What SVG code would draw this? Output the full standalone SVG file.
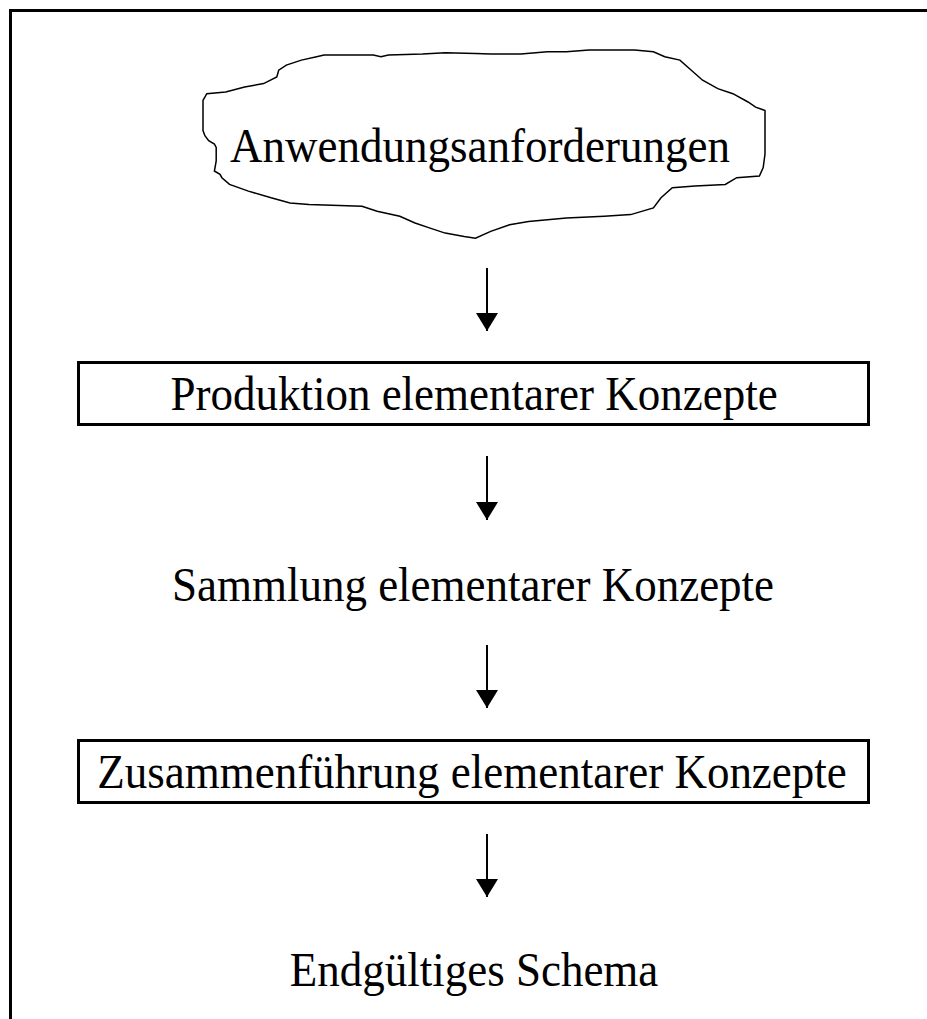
<svg xmlns="http://www.w3.org/2000/svg" width="927" height="1019" viewBox="0 0 927 1019">
  <style>
    .lbl { font-family: "Liberation Serif", "Times New Roman", serif; font-size: 45px; fill: #000; text-anchor: middle; }
    .box { fill: #fff; stroke: #000; stroke-width: 3; }
    .cloud { fill: #fff; stroke: #000; stroke-width: 1.5; stroke-linejoin: miter; }
    .edge { stroke: #000; stroke-width: 2; fill: none; marker-end: url(#head); }
  </style>
  <defs>
    <!-- filled triangular arrowhead, drawn along +x so orient="auto" points it down the line -->
    <marker id="head" markerUnits="userSpaceOnUse" markerWidth="18" markerHeight="22" refX="18" refY="11" orient="auto" viewBox="0 0 18 22">
      <path d="M0,0 L18,11 L0,22 Z" fill="#000"/>
    </marker>
  </defs>

  <rect width="927" height="1019" fill="#fff"/>
  <!-- outer frame: top and left edges only -->
  <path d="M10.5,1019 V10.5 H927" fill="none" stroke="#000" stroke-width="3"/>

  <g id="anforderungen">
    <path class="cloud" d="M203,100.4 L206.8,93.7 L225.7,92 L244.6,87 L263.6,83.6 L276.8,76.9 L278.7,70.2 L286.3,65.1 L301.4,60.1 L316.6,56.7 L324.1,55 L373.3,55 L380.9,56.7 L388.5,55 L422.5,54 L445.2,52.7 L475.5,53.4 L490.7,54 L520.9,54 L547.4,51.7 L566.4,51.7 L589.1,50 L634.5,50 L653.4,51.7 L664.8,56.7 L679.9,60.1 L691.3,70.2 L702.6,80.2 L717.8,88.6 L732.9,93.7 L748,102 L755.6,107.1 L765,110.5 L765,127.3 L765,154 L763.2,167.6 L759.4,176 L736.7,177.7 L725.3,184.4 L695,186 L672.3,187.8 L661,197.8 L653.4,207.9 L630.7,214.6 L604.2,216.3 L566.4,218 L528.5,221.4 L509.6,224.7 L490.7,231.4 L475.5,238.2 L464.2,236.5 L445.2,233.1 L430.1,228.1 L415,223 L399.8,216.3 L377.1,211.3 L362,206.2 L309,204.6 L290,202.9 L271.1,197.8 L248.4,191.1 L229.5,184.4 L221.9,177.7 L220,174.3 L214.4,171 L216.2,160.9 L216.2,147.4 L214.4,144.1 L208.7,140.7 L204.9,135.7 L203,130.6 Z"/>
    <text class="lbl" transform="translate(480,162) scale(1,1.08)">Anwendungsanforderungen</text>
  </g>

  <g id="produktion">
    <rect class="box" x="78.5" y="362.5" width="790" height="62"/>
    <text class="lbl" transform="translate(474,410) scale(1,1.08)">Produktion elementarer Konzepte</text>
  </g>

  <g id="sammlung">
    <text class="lbl" transform="translate(473,601) scale(1,1.08)">Sammlung elementarer Konzepte</text>
  </g>

  <g id="zusammenfuehrung">
    <rect class="box" x="78.5" y="740.5" width="790" height="62"/>
    <text class="lbl" transform="translate(472,788) scale(1,1.08)">Zusammenführung elementarer Konzepte</text>
  </g>

  <g id="schema">
    <text class="lbl" transform="translate(474,986) scale(1,1.08)">Endgültiges Schema</text>
  </g>

  <g id="connectors">
    <line class="edge" x1="487" y1="268" x2="487" y2="331"/>
    <line class="edge" x1="487" y1="456" x2="487" y2="520"/>
    <line class="edge" x1="487" y1="645" x2="487" y2="708"/>
    <line class="edge" x1="487" y1="834" x2="487" y2="897"/>
  </g>
</svg>
